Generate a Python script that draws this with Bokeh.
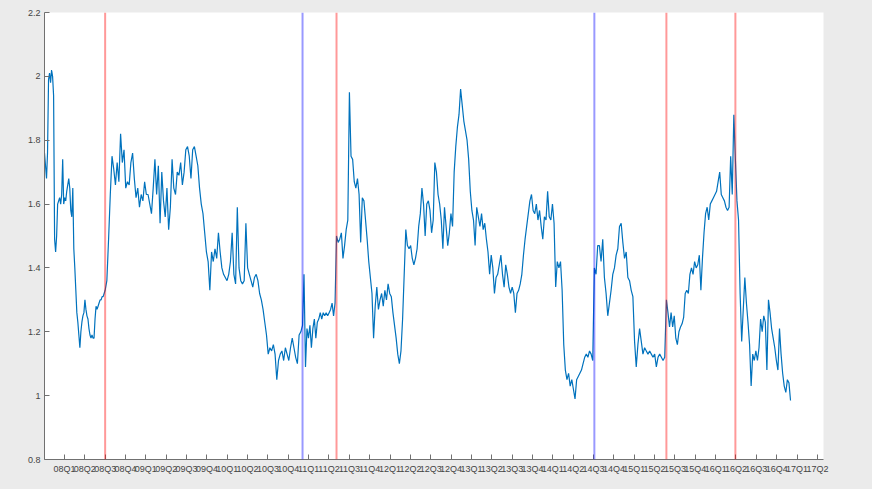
import numpy as np
from bokeh.plotting import figure
from bokeh.models import FixedTicker, Range1d, Span
from bokeh.embed import file_html
from bokeh.resources import INLINE

# ---- data (x in quarters, 0 = 08Q1) ----
x_start = -0.98
x_end = 35.68
event_pos = [2.0, 11.7, 13.37, 26.04, 29.58, 32.97]
event_color = ["red", "blue", "red", "blue", "red", "red"]

seg_a = [1.76, 1.72, 1.68, 1.76, 1.99, 2.01, 1.98, 2.02, 2.0, 1.94, 1.49, 1.45, 1.5, 1.6, 1.61, 1.62,
         1.60, 1.63, 1.74, 1.60, 1.62, 1.61, 1.64, 1.66, 1.68, 1.65, 1.58, 1.56, 1.65, 1.46, 1.40, 1.33,
         1.26, 1.23, 1.19, 1.15, 1.20, 1.23, 1.25, 1.26, 1.30, 1.27, 1.25, 1.24, 1.21, 1.19, 1.18, 1.19,
         1.18, 1.18, 1.24, 1.28, 1.27, 1.28, 1.29, 1.30, 1.30, 1.31, 1.31, 1.32]
seg_b = [1.33, 1.36, 1.49, 1.63, 1.75, 1.71, 1.66, 1.73, 1.67, 1.82, 1.73, 1.77, 1.65, 1.67, 1.66, 1.73,
         1.76, 1.68, 1.62, 1.65, 1.59, 1.63, 1.61, 1.67, 1.63, 1.63, 1.60, 1.57, 1.65, 1.74, 1.63, 1.72,
         1.54, 1.70, 1.61, 1.56, 1.65, 1.52, 1.59, 1.74, 1.65, 1.63, 1.70, 1.69, 1.73, 1.66, 1.70, 1.77,
         1.78, 1.75, 1.68, 1.77, 1.78, 1.75, 1.72, 1.65, 1.60, 1.57, 1.51, 1.45, 1.42, 1.33, 1.45, 1.42,
         1.46, 1.43, 1.51, 1.45, 1.40, 1.38, 1.37, 1.36, 1.38, 1.42, 1.51, 1.38, 1.35, 1.59, 1.40, 1.36,
         1.35, 1.36, 1.54, 1.40, 1.38, 1.36, 1.34, 1.37, 1.38, 1.36, 1.32, 1.30, 1.27, 1.23, 1.19, 1.13,
         1.15, 1.14, 1.16, 1.13, 1.05, 1.11, 1.13, 1.14, 1.11, 1.15, 1.13, 1.11, 1.15, 1.18, 1.15, 1.12,
         1.10, 1.19, 1.20]
seg_c = [1.22, 1.38, 1.09, 1.21, 1.18, 1.22, 1.15, 1.21, 1.24, 1.18, 1.23, 1.24, 1.26, 1.24, 1.26,
         1.25, 1.26, 1.25, 1.26, 1.27, 1.29, 1.25, 1.29]
seg_d = [1.50, 1.48, 1.49, 1.51, 1.43, 1.47, 1.52, 1.55, 1.95, 1.75, 1.74, 1.67, 1.65, 1.68, 1.63,
         1.48, 1.62, 1.61, 1.55, 1.49, 1.42, 1.37, 1.32, 1.18, 1.28, 1.34, 1.27, 1.30, 1.32, 1.28, 1.33,
         1.30, 1.35, 1.32, 1.31, 1.26, 1.22, 1.18, 1.13, 1.10, 1.14, 1.24, 1.38, 1.52, 1.47, 1.46, 1.47,
         1.43, 1.41, 1.43, 1.46, 1.53, 1.57, 1.65, 1.60, 1.50, 1.60, 1.61, 1.58, 1.51, 1.55, 1.73, 1.70,
         1.63, 1.60, 1.55, 1.46, 1.59, 1.53, 1.47, 1.51, 1.57, 1.53, 1.70, 1.78, 1.84, 1.88, 1.96, 1.91,
         1.86, 1.83, 1.80, 1.74, 1.64, 1.58, 1.55, 1.47, 1.59, 1.56, 1.53, 1.57, 1.52, 1.54, 1.49, 1.45,
         1.38, 1.44, 1.40, 1.32, 1.37, 1.38, 1.41, 1.44, 1.38, 1.34, 1.41, 1.38, 1.34, 1.32, 1.34, 1.32,
         1.26, 1.32, 1.33, 1.35, 1.38, 1.44, 1.49, 1.53, 1.57, 1.61, 1.63, 1.58,
         1.57, 1.60, 1.55, 1.58, 1.53, 1.49, 1.56, 1.55, 1.64, 1.56, 1.55, 1.60, 1.54, 1.34, 1.42, 1.40,
         1.42, 1.33, 1.16, 1.08, 1.05, 1.07, 1.03, 1.05, 1.02, 0.99, 1.05, 1.06, 1.07, 1.08, 1.10, 1.12,
         1.13, 1.12, 1.14, 1.13, 1.11]
seg_e = [1.40, 1.38, 1.47, 1.47, 1.42, 1.49, 1.37, 1.32, 1.25, 1.29, 1.33, 1.38, 1.40, 1.44, 1.46,
         1.53, 1.54, 1.48, 1.43, 1.45, 1.37, 1.36, 1.33, 1.31, 1.17, 1.09, 1.16, 1.21, 1.17, 1.13, 1.15,
         1.14, 1.13, 1.14, 1.13, 1.12, 1.13, 1.09, 1.12, 1.13, 1.12, 1.11, 1.12]
seg_f = [1.30, 1.26, 1.215, 1.26, 1.215, 1.25, 1.18, 1.16, 1.20, 1.215, 1.225, 1.245, 1.32, 1.33,
         1.32, 1.38, 1.40, 1.38, 1.42, 1.40, 1.41, 1.44, 1.33, 1.43, 1.51, 1.57, 1.59, 1.55, 1.60, 1.61,
         1.62, 1.63, 1.64, 1.67, 1.70, 1.63, 1.62, 1.61, 1.59, 1.58, 1.59, 1.75, 1.63, 1.88]
seg_g = [1.74, 1.61, 1.55, 1.32, 1.17, 1.27, 1.37, 1.29, 1.23, 1.16, 1.03, 1.13, 1.11, 1.14, 1.11,
         1.15, 1.24, 1.20, 1.25, 1.23, 1.08, 1.30, 1.26, 1.21, 1.18, 1.15, 1.11, 1.08, 1.21, 1.13, 1.07,
         1.03, 1.01, 1.05, 1.04, 0.985]

quarter_labels = ["08Q1", "08Q2", "08Q3", "08Q4", "09Q1", "09Q2", "09Q3", "09Q4",
                  "10Q1", "10Q2", "10Q3", "10Q4", "11Q1", "11Q2", "11Q3", "11Q4",
                  "12Q1", "12Q2", "12Q3", "12Q4", "13Q1", "13Q2", "13Q3", "13Q4",
                  "14Q1", "14Q2", "14Q3", "14Q4", "15Q1", "15Q2", "15Q3", "15Q4",
                  "16Q1", "16Q2", "16Q3", "16Q4", "17Q1", "17Q2"]
y_ticks = [0.8, 1, 1.2, 1.4, 1.6, 1.8, 2, 2.2]
y_tick_labels = ["0.8", "1", "1.2", "1.4", "1.6", "1.8", "2", "2.2"]

# ---- assemble series, segments bounded by the event lines ----
segments = [seg_a, seg_b, seg_c, seg_d, seg_e, seg_f, seg_g]
bounds = [x_start] + event_pos + [x_end]
xs, ys = [], []
for i, seg in enumerate(segments):
    b0, b1 = bounds[i], bounds[i + 1]
    n = len(seg)
    denom = n - 1 if i == len(segments) - 1 else n
    xs.extend(b0 + (b1 - b0) * np.arange(n) / denom)
    ys.extend(seg)

BG = "#ebebeb"
p = figure(width=868, height=486, output_backend="svg", toolbar_location=None,
           x_range=Range1d(-0.98, 37.3), y_range=Range1d(0.8, 2.2),
           min_border_left=44, min_border_top=12, min_border_right=45, min_border_bottom=27)
p.border_fill_color = BG
p.background_fill_color = "white"
p.outline_line_color = None
p.grid.visible = False

p.line(xs, ys, line_color="#0072BD", line_width=1.2)

for pos, col in zip(event_pos, event_color):
    p.add_layout(Span(location=pos, dimension="height", line_color=col,
                      line_alpha=0.4, line_width=2))

p.xaxis.ticker = FixedTicker(ticks=list(range(len(quarter_labels))))
p.xaxis.major_label_overrides = {i: lab for i, lab in enumerate(quarter_labels)}
p.yaxis.ticker = FixedTicker(ticks=y_ticks)
p.yaxis.major_label_overrides = {t: lab for t, lab in zip(y_ticks, y_tick_labels)}

for ax in (p.xaxis[0], p.yaxis[0]):
    ax.axis_line_color = "#707070"
    ax.axis_line_width = 1
    ax.major_tick_line_color = "#707070"
    ax.major_tick_in = 5
    ax.major_tick_out = 0
    ax.minor_tick_line_color = None
    ax.major_label_text_font = "Liberation Sans"
    ax.major_label_text_font_size = "9px"
    ax.major_label_text_color = "#444444"
    ax.major_label_standoff = 4

html = file_html(p, INLINE)
html = html.replace("<head>", "<head><style>html, body {background-color: %s;}</style>" % BG, 1)
open("out.html", "w").write(html)
